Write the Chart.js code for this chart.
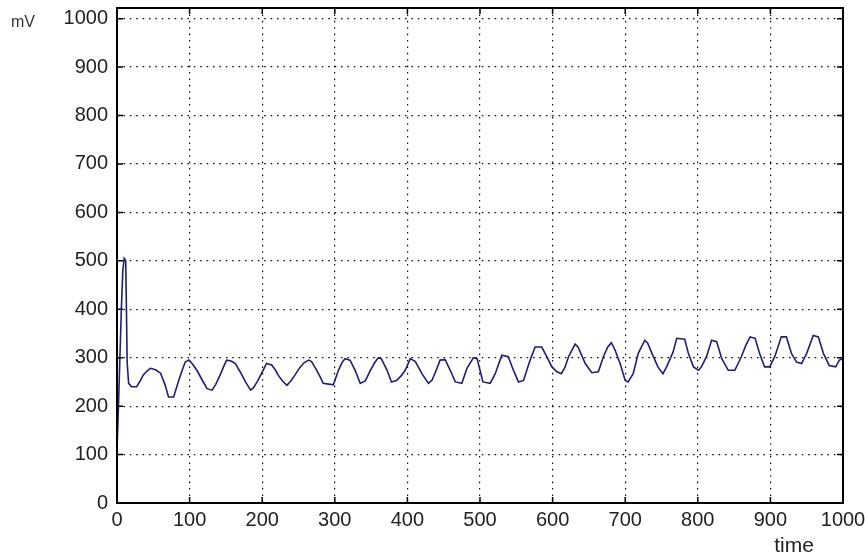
<!DOCTYPE html>
<html>
<head>
<meta charset="utf-8">
<script src="https://cdn.jsdelivr.net/npm/chart.js@4/dist/chart.umd.min.js"></script>
<style>
  html, body { margin: 0; padding: 0; background: #fff; }
  #wrap { width: 865px; height: 555px; position: relative; }
</style>
</head>
<body>
<div id="wrap"><canvas id="c" width="865" height="555"></canvas></div>
<script>
// ---- data ----
const timeValues = [0, 2, 4, 6, 8, 10, 12, 13, 14, 16, 20, 27, 32, 36, 41, 46, 53, 60, 66, 71, 78, 85, 90, 94, 99,
  104, 110, 117, 124, 131, 136, 142, 147, 151, 157, 163, 170, 177, 184, 188, 193, 200, 206, 213, 218, 222, 228, 234,
  240, 245, 252, 258, 264, 268, 274, 280, 284, 294, 298, 305, 310, 314, 321, 328, 335, 342, 349, 355, 360, 364, 372,
  378, 385, 391, 397, 404, 411, 420, 429, 434, 440, 445, 452, 459, 466, 475, 482, 491, 496, 500, 504, 514, 521, 530,
  539, 546, 553, 560, 569, 576, 585, 592, 599, 606, 612, 617, 622, 631, 635, 645, 654, 663, 670, 676, 681, 686, 693,
  700, 704, 711, 718, 727, 731, 736, 745, 752, 757, 766, 771, 782, 787, 794, 801, 805, 812, 819, 826, 833, 842, 851,
  860, 866, 872, 879, 885, 892, 899, 906, 915, 922, 929, 936, 943, 950, 959, 966, 973, 981, 990, 995, 1000];
const mvValues = [110, 200, 300, 400, 480, 505, 500, 400, 290, 247, 240, 240, 252, 264, 272, 278, 275, 268, 245, 219,
  219, 253, 275, 291, 295, 287, 274, 255, 236, 233, 245, 264, 282, 295, 293, 288, 270, 250, 233, 238, 250, 270, 288,
  285, 275, 264, 252, 243, 253, 264, 280, 290, 295, 292, 277, 260, 247, 245, 244, 274, 290, 298, 295, 274, 247, 252,
  274, 290, 300, 298, 274, 250, 253, 262, 274, 298, 292, 267, 247, 254, 275, 295, 296, 274, 250, 247, 278, 300, 298,
  274, 250, 247, 267, 305, 302, 274, 250, 253, 295, 322, 322, 302, 281, 271, 267, 280, 302, 328, 322, 288, 269, 271,
  302, 322, 331, 316, 288, 253, 250, 267, 309, 336, 330, 312, 281, 267, 281, 312, 340, 338, 309, 281, 274, 281, 302,
  336, 333, 298, 274, 274, 302, 325, 343, 340, 309, 281, 281, 302, 343, 343, 309, 291, 288, 309, 346, 343, 309, 284,
  281, 295, 298];
const xTickValues = [0, 100, 200, 300, 400, 500, 600, 700, 800, 900, 1000];
const yTickValues = [0, 100, 200, 300, 400, 500, 600, 700, 800, 900, 1000];
const yAxisLabel = 'mV';
const xAxisLabel = 'time';

const points = timeValues.map((t, i) => ({ x: t, y: mvValues[i] }));
const FONT = '"Liberation Sans", Arial, sans-serif';

const boxPlugin = {
  id: 'matlabBox',
  afterDraw(chart) {
    const { ctx, chartArea: a, scales } = chart;
    ctx.save();
    ctx.strokeStyle = '#000';
    ctx.lineWidth = 1.5;
    const tl = 6;
    ctx.beginPath();
    yTickValues.forEach(v => {
      const y = scales.y.getPixelForValue(v);
      ctx.moveTo(a.left, y); ctx.lineTo(a.left + tl, y);
      ctx.moveTo(a.right, y); ctx.lineTo(a.right - tl, y);
    });
    xTickValues.forEach(v => {
      const x = scales.x.getPixelForValue(v);
      ctx.moveTo(x, a.bottom); ctx.lineTo(x, a.bottom - tl);
      ctx.moveTo(x, a.top); ctx.lineTo(x, a.top + tl);
    });
    ctx.stroke();
    ctx.lineWidth = 2;
    ctx.strokeRect(a.left, a.top, a.right - a.left, a.bottom - a.top);
    ctx.fillStyle = '#333';
    ctx.font = '16px ' + FONT;
    ctx.textAlign = 'left';
    ctx.textBaseline = 'alphabetic';
    ctx.fillText(yAxisLabel, 11, 27);
    ctx.fillStyle = '#222';
    ctx.font = '21px ' + FONT;
    ctx.textAlign = 'center';
    ctx.fillText(xAxisLabel, 794, 552);
    ctx.restore();
  }
};

function noPad(s) { s.paddingTop = 0; s.paddingBottom = 0; s.paddingLeft = 0; s.paddingRight = 0; }

new Chart(document.getElementById('c'), {
  type: 'line',
  data: {
    datasets: [{
      data: points,
      borderColor: '#1e1e78',
      borderWidth: 1.6,
      pointRadius: 0,
      tension: 0,
      fill: false
    }]
  },
  options: {
    responsive: false,
    animation: false,
    devicePixelRatio: 1,
    layout: { padding: { top: 8, right: 22, bottom: 0, left: 0 } },
    plugins: { legend: { display: false }, tooltip: { enabled: false } },
    scales: {
      x: {
        type: 'linear',
        min: 0, max: 1000,
        afterBuildTicks: s => { s.ticks = xTickValues.map(v => ({ value: v })); },
        afterFit: s => { s.height = 52; noPad(s); },
        grid: { color: '#111', lineWidth: 1.2, drawTicks: false },
        border: { display: false, dash: [1.6, 4.8] },
        ticks: { color: '#222', font: { family: FONT, size: 20 }, padding: 5, maxRotation: 0, autoSkip: false,
                 callback: v => String(v) }
      },
      y: {
        type: 'linear',
        min: 0, max: 1022,
        afterBuildTicks: s => { s.ticks = yTickValues.map(v => ({ value: v })); },
        afterFit: s => { s.width = 117; noPad(s); },
        grid: { color: '#111', lineWidth: 1.2, drawTicks: false },
        border: { display: false, dash: [1.6, 4.8] },
        ticks: { color: '#222', font: { family: FONT, size: 20 }, padding: 9, autoSkip: false,
                 callback: v => String(v) }
      }
    }
  },
  plugins: [boxPlugin]
});
</script>
</body>
</html>
